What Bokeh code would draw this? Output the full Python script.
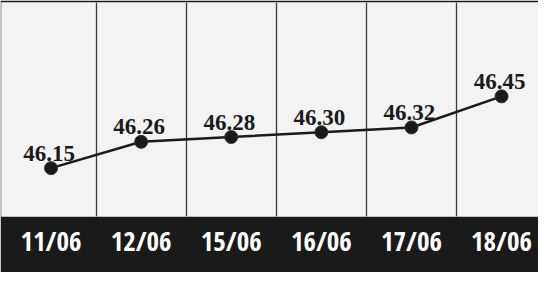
from bokeh.plotting import figure
from bokeh.models import Range1d, FixedTicker, ColumnDataSource
from bokeh.core.properties import value
from bokeh.embed import file_html
from bokeh.resources import INLINE

dates = ["11/06", "12/06", "15/06", "16/06", "17/06", "18/06"]
rates = [46.15, 46.26, 46.28, 46.30, 46.32, 46.45]

idx = list(range(len(dates)))
src = ColumnDataSource(dict(x=idx, y=rates, label=["%.2f" % v for v in rates]))

DARK = "#1a1a1a"
p = figure(width=538, height=272, output_backend="svg", toolbar_location=None,
           x_range=Range1d(-0.55, 5.41), y_range=Range1d(45.948, 46.842))
p.background_fill_color = "#f3f3f3"
p.border_fill_color = DARK
p.outline_line_color = None
p.min_border_top = 2
p.min_border_left = 1
p.min_border_right = 0
p.min_border_bottom = 56
p.yaxis.visible = False
p.ygrid.visible = False

p.xgrid.ticker = FixedTicker(ticks=[i + 0.5 for i in idx[:-1]])
p.xgrid.grid_line_color = "#3a3a3a"
p.xgrid.grid_line_width = 1.3

ax = p.xaxis[0]
ax.ticker = FixedTicker(ticks=idx)
ax.major_label_overrides = {i: d for i, d in zip(idx, dates)}
ax.axis_line_color = None
ax.major_tick_line_color = None
ax.minor_tick_line_color = None
ax.major_tick_out = 0
ax.major_tick_in = 0
ax.major_label_text_color = "#ffffff"
ax.major_label_text_font = "Open Sans Condensed"
ax.major_label_text_font_style = "bold"
ax.major_label_text_font_size = "27px"
ax.major_label_standoff = 5

p.line("x", "y", source=src, line_color=DARK, line_width=2.5)
p.scatter("x", "y", source=src, size=13, fill_color=DARK, line_color="#333333")
p.text("x", "y", text="label", source=src, text_font=value("Liberation Serif"),
       text_font_style="bold", text_font_size="23px", text_color=DARK,
       text_align="center", text_baseline="alphabetic", x_offset=-2, y_offset=-15)

open("out.html", "w").write(file_html(p, INLINE))
